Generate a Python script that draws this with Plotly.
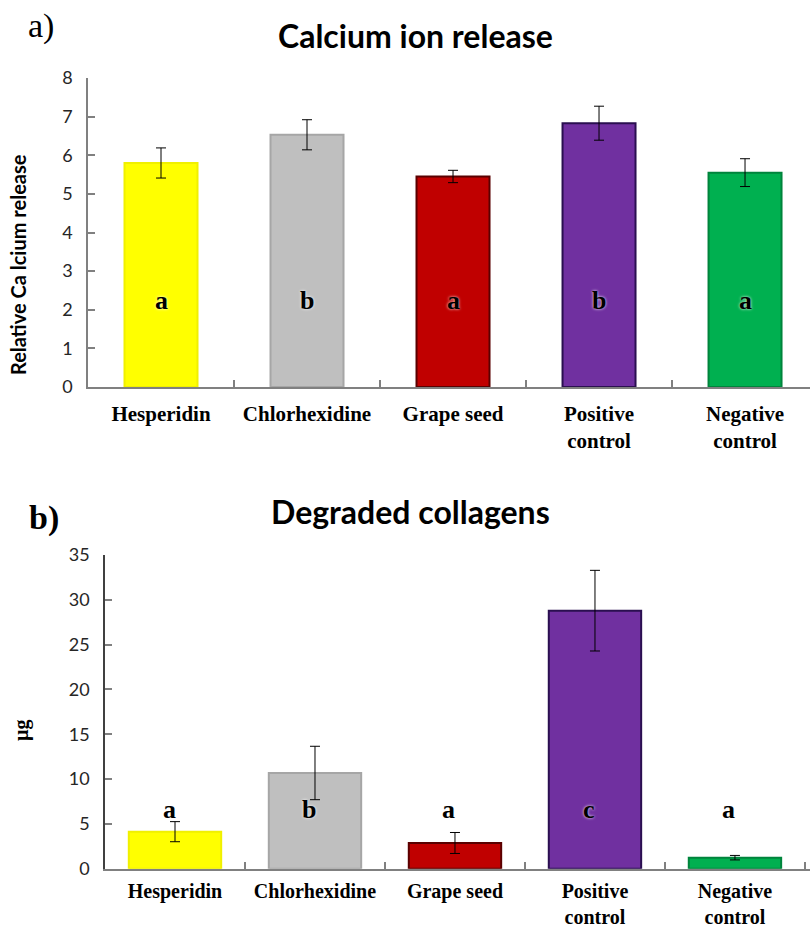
import plotly.graph_objects as go

W, H = 810, 931

categories = ["Hesperidin", "Chlorhexidine", "Grape seed", "Positive<br>control", "Negative<br>control"]
colors = ["#FFFF00", "#BFBFBF", "#C00000", "#7030A0", "#00B050"]
border_colors = ["#F0F000", "#A6A6A6", "#5A0000", "#2A0F50", "#00843C"]

calcium_values = [5.80, 6.53, 5.45, 6.83, 5.55]
calcium_err = [0.39, 0.39, 0.16, 0.44, 0.36]
calcium_letters = ["a", "b", "a", "b", "a"]
calcium_letter_y = 2.25

collagen_values = [4.13, 10.68, 2.87, 28.79, 1.23]
collagen_err = [1.12, 2.98, 1.17, 4.50, 0.25]
collagen_letters = ["a", "b", "a", "c", "a"]
collagen_letter_y = 6.55

calcium_ticks = [0, 1, 2, 3, 4, 5, 6, 7, 8]
collagen_ticks = [0, 5, 10, 15, 20, 25, 30, 35]

def px(x):
    return x / W

def py(y):
    return 1 - y / H

fig = go.Figure()

fig.add_trace(go.Bar(
    x=categories, y=calcium_values, width=0.5,
    marker=dict(color=colors, line=dict(color=border_colors, width=2)),
    error_y=dict(type="data", array=calcium_err, color="#000000", thickness=1, width=5),
    xaxis="x", yaxis="y", showlegend=False,
))
fig.add_trace(go.Bar(
    x=categories, y=collagen_values, width=0.66,
    marker=dict(color=colors, line=dict(color=border_colors, width=2)),
    error_y=dict(type="data", array=collagen_err, color="#000000", thickness=1, width=5),
    xaxis="x2", yaxis="y2", showlegend=False,
))

shadow = "0px 0px 3px white"
letter_font = dict(family="Liberation Serif", size=26, color="#000000", weight="bold", shadow=shadow)

annotations = []
for cat, let in zip(categories, calcium_letters):
    annotations.append(dict(x=cat, y=calcium_letter_y, xref="x", yref="y", text=let, showarrow=False,
                            font=letter_font))
for cat, let in zip(categories, collagen_letters):
    annotations.append(dict(x=cat, y=collagen_letter_y, xref="x2", yref="y2", text=let, showarrow=False,
                            xshift=-6, font=letter_font))

annotations += [
    dict(x=px(415), y=py(35), xref="paper", yref="paper", text="<b>Calcium ion release</b>", showarrow=False,
         font=dict(family="Lato", size=32, color="#000000"), xanchor="center", yanchor="middle"),
    dict(x=px(410), y=py(511), xref="paper", yref="paper", text="<b>Degraded collagens</b>", showarrow=False,
         font=dict(family="Lato", size=32, color="#000000"), xanchor="center", yanchor="middle"),
    dict(x=px(41), y=py(26), xref="paper", yref="paper", text="a)", showarrow=False,
         font=dict(family="Liberation Serif", size=34, color="#000000"), xanchor="center", yanchor="middle"),
    dict(x=px(44), y=py(518), xref="paper", yref="paper", text="<b>b)</b>", showarrow=False,
         font=dict(family="Liberation Serif", size=34, color="#000000"), xanchor="center", yanchor="middle"),
    dict(x=px(18), y=py(265), xref="paper", yref="paper", text="<b>Relative Ca lcium release</b>", showarrow=False,
         textangle=-90, font=dict(family="Lato", size=20, color="#000000"), xanchor="center", yanchor="middle"),
    dict(x=px(21), y=py(730), xref="paper", yref="paper", text="<b>µg</b>", showarrow=False,
         textangle=-90, font=dict(family="Liberation Serif", size=20, color="#000000"), xanchor="center", yanchor="middle"),
]

axis_color = "#808080"
common_x = dict(type="category", showline=True, linecolor=axis_color, linewidth=1.5,
                ticks="inside", tickson="boundaries", ticklen=7, tickcolor=axis_color, tickwidth=1.5,
                showgrid=False, zeroline=False, fixedrange=True, automargin=False)
common_y = dict(showline=True, linecolor=axis_color, linewidth=1.5, ticks="inside", ticklen=7,
                tickcolor=axis_color, tickwidth=1.5, showgrid=False, zeroline=False, automargin=False,
                tickfont=dict(family="Lato", size=18, color="#262626"), fixedrange=True)

fig.update_layout(
    width=W, height=H,
    margin=dict(l=0, r=0, t=0, b=0),
    paper_bgcolor="white", plot_bgcolor="white",
    bargap=0.5,
    xaxis=dict(common_x, domain=[px(88), 1.0], range=[-0.5, 4.445], anchor="y",
               tickfont=dict(family="Liberation Serif", size=21, color="#000000", weight="bold"),
               ticklabelstandoff=7),
    yaxis=dict(common_y, domain=[py(387), py(78)], range=[0, 8], tickvals=calcium_ticks, anchor="x",
               ticklabelstandoff=10),
    xaxis2=dict(common_x, domain=[px(105), 1.0], range=[-0.5, 4.536], anchor="y2",
                tickfont=dict(family="Liberation Serif", size=20, color="#000000", weight="bold"),
                ticklabelstandoff=4),
    yaxis2=dict(common_y, domain=[py(868.7), py(555)], range=[0, 35], tickvals=collagen_ticks, anchor="x2",
                ticklabelstandoff=10, linecolor="#404040"),
    annotations=annotations,
)

fig.write_html("out.html", config={"displayModeBar": False},
               post_script="document.body.style.margin='0';document.body.style.overflow='hidden';")
